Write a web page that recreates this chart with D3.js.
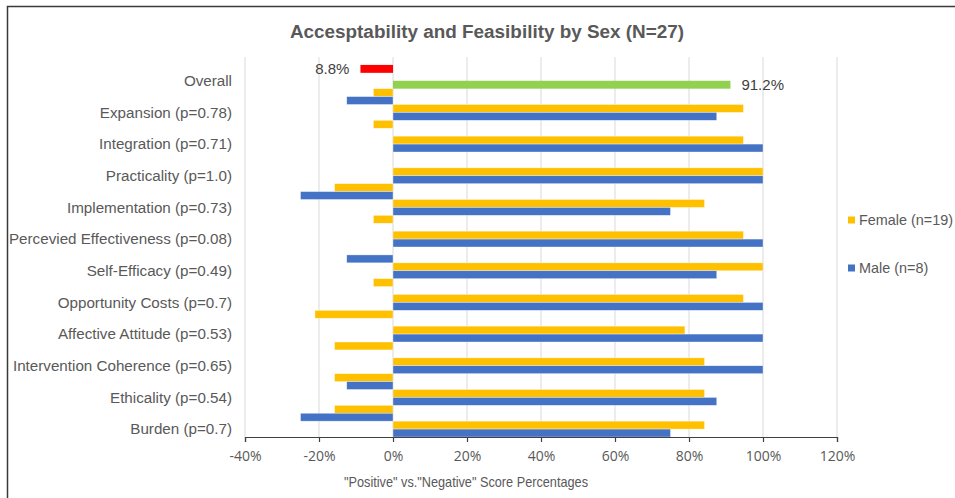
<!DOCTYPE html>
<html>
<head>
<meta charset="utf-8">
<script src="https://cdn.jsdelivr.net/npm/d3@7/dist/d3.min.js"></script>
<style>
  html, body { margin: 0; padding: 0; background: #fff; }
  svg { display: block; font-family: "Liberation Sans", Arial, sans-serif; }
</style>
</head>
<body>
<svg id="chart" width="955" height="498"></svg>
<script>
// ---- data ----
const categories = [
  "Overall",
  "Expansion (p=0.78)",
  "Integration (p=0.71)",
  "Practicality (p=1.0)",
  "Implementation (p=0.73)",
  "Percevied Effectiveness (p=0.08)",
  "Self-Efficacy (p=0.49)",
  "Opportunity Costs (p=0.7)",
  "Affective Attitude (p=0.53)",
  "Intervention Coherence (p=0.65)",
  "Ethicality (p=0.54)",
  "Burden (p=0.7)"
];
// percentages; null = no bar
const femalePositive = [null, 94.7, 94.7, 100, 84.2, 94.7, 100, 94.7, 78.9, 84.2, 84.2, 84.2];
const malePositive   = [null, 87.5, 100, 100, 75, 100, 87.5, 100, 100, 100, 87.5, 75];
const femaleNegative = [null, -5.3, -5.3, 0, -15.8, -5.3, 0, -5.3, -21.1, -15.8, -15.8, -15.8];
const maleNegative   = [null, -12.5, 0, 0, -25, 0, -12.5, 0, 0, 0, -12.5, -25];
const overallPositive = 91.2;
const overallNegative = -8.8;
const xTicks = [-40, -20, 0, 20, 40, 60, 80, 100, 120];
const legendLabels = ["Female (n=19)", "Male (n=8)"];
const titleText = "Accesptability and Feasibility by Sex (N=27)";
const xAxisTitle = "\"Positive\" vs.\"Negative\" Score Percentages";

// ---- colours ----
const cFemale = "#FFC000", cMale = "#4472C4", cGreen = "#92D050", cRed = "#FF0000";
const textGray = "#595959";

const svg = d3.select("#chart");
const margin = {left: 245, right: 118, top: 57, bottom: 61};
const W = 955, H = 498;

// outer frame (cropped at right and bottom)
svg.append("rect").attr("x", 7.5).attr("y", 6.5).attr("width", 1000).attr("height", 1000)
  .attr("fill", "none").attr("stroke", "#3a3a3a").attr("stroke-width", 1.5);

const x = d3.scaleLinear().domain([-40, 120]).range([margin.left, W - margin.right]);
const y = d3.scaleBand().domain(categories).range([margin.top, H - margin.bottom]).padding(0);
const bw = y.bandwidth();
const bh = bw / 4;

// gridlines
svg.append("g").selectAll("line").data(xTicks).join("line")
  .attr("x1", d => x(d)).attr("x2", d => x(d))
  .attr("y1", margin.top).attr("y2", H - margin.bottom)
  .attr("stroke", "#D9D9D9").attr("stroke-width", 1);

// bars: slot 0 female neg, 1 male neg, 2 female pos, 3 male pos
function drawBars(values, slot, color) {
  const data = categories.map((c, i) => ({c, v: values[i]})).filter(d => d.v !== null && d.v !== 0);
  svg.append("g").selectAll("rect").data(data).join("rect")
    .attr("x", d => Math.min(x(0), x(d.v)))
    .attr("width", d => Math.abs(x(d.v) - x(0)))
    .attr("y", d => y(d.c) + slot * bh)
    .attr("height", bh)
    .attr("fill", color)
    .attr("stroke", "rgba(255,255,255,0.6)").attr("stroke-width", 0.6);
}
drawBars(femaleNegative, 0, cFemale);
drawBars(maleNegative, 1, cMale);
drawBars(femalePositive, 2, cFemale);
drawBars(malePositive, 3, cMale);

// overall bars
const ov = categories[0];
svg.append("rect").attr("x", x(overallNegative)).attr("width", x(0) - x(overallNegative))
  .attr("y", y(ov) + 1 * bh).attr("height", bh).attr("fill", cRed);
svg.append("rect").attr("x", x(0)).attr("width", x(overallPositive) - x(0))
  .attr("y", y(ov) + 3 * bh).attr("height", bh).attr("fill", cGreen);

// data labels
svg.append("text").attr("x", x(overallNegative) - 11).attr("y", y(ov) + 1.5 * bh)
  .attr("dy", "0.35em").attr("text-anchor", "end").attr("font-size", 15).attr("fill", "#404040")
  .text(Math.abs(overallNegative).toFixed(1) + "%");
svg.append("text").attr("x", x(overallPositive) + 11).attr("y", y(ov) + 3.5 * bh)
  .attr("dy", "0.35em").attr("text-anchor", "start").attr("font-size", 15).attr("fill", "#404040")
  .text(overallPositive.toFixed(1) + "%");

// x axis
const xAxis = d3.axisBottom(x).tickValues(xTicks).tickFormat(d => d + "%").tickSize(5).tickPadding(9);
const gx = svg.append("g").attr("transform", `translate(0,${H - margin.bottom})`).call(xAxis);
gx.select(".domain").attr("stroke", "#404040").attr("stroke-width", 1.2);
gx.selectAll(".tick line").attr("stroke", "#404040").attr("stroke-width", 1.2);
gx.selectAll(".tick text").attr("font-size", 14).attr("fill", textGray)
  .attr("font-family", "'Open Sans', 'Liberation Sans', sans-serif");

// category labels (aligned with positive bar pairs)
svg.append("g").selectAll("text").data(categories).join("text")
  .attr("x", 232).attr("y", d => y(d) + bw * 0.75).attr("dy", "0.35em")
  .attr("text-anchor", "end").attr("font-size", 15.2).attr("fill", textGray)
  .text(d => d);

// title
svg.append("text").attr("x", 487).attr("y", 31).attr("dy", "0.35em").attr("text-anchor", "middle")
  .attr("font-size", 18.9).attr("font-weight", "bold").attr("fill", textGray).text(titleText);

// axis title
svg.append("text").attr("x", 466).attr("y", 482).attr("dy", "0.35em").attr("text-anchor", "middle")
  .attr("font-size", 15).attr("fill", textGray)
  .attr("font-family", "'Liberation Sans Narrow', 'Liberation Sans', sans-serif")
  .attr("textLength", 244).attr("lengthAdjust", "spacingAndGlyphs").text(xAxisTitle);

// legend
const legendColors = [cFemale, cMale];
const lg = svg.append("g").selectAll("g").data(legendLabels).join("g")
  .attr("transform", (d, i) => `translate(848,${220 + i * 48})`);
lg.append("rect").attr("x", 0).attr("y", -3.5).attr("width", 7).attr("height", 7)
  .attr("fill", (d, i) => legendColors[i]);
lg.append("text").attr("x", 11).attr("y", 0).attr("dy", "0.35em").attr("font-size", 14.4)
  .attr("fill", textGray).text(d => d);
</script>
</body>
</html>
